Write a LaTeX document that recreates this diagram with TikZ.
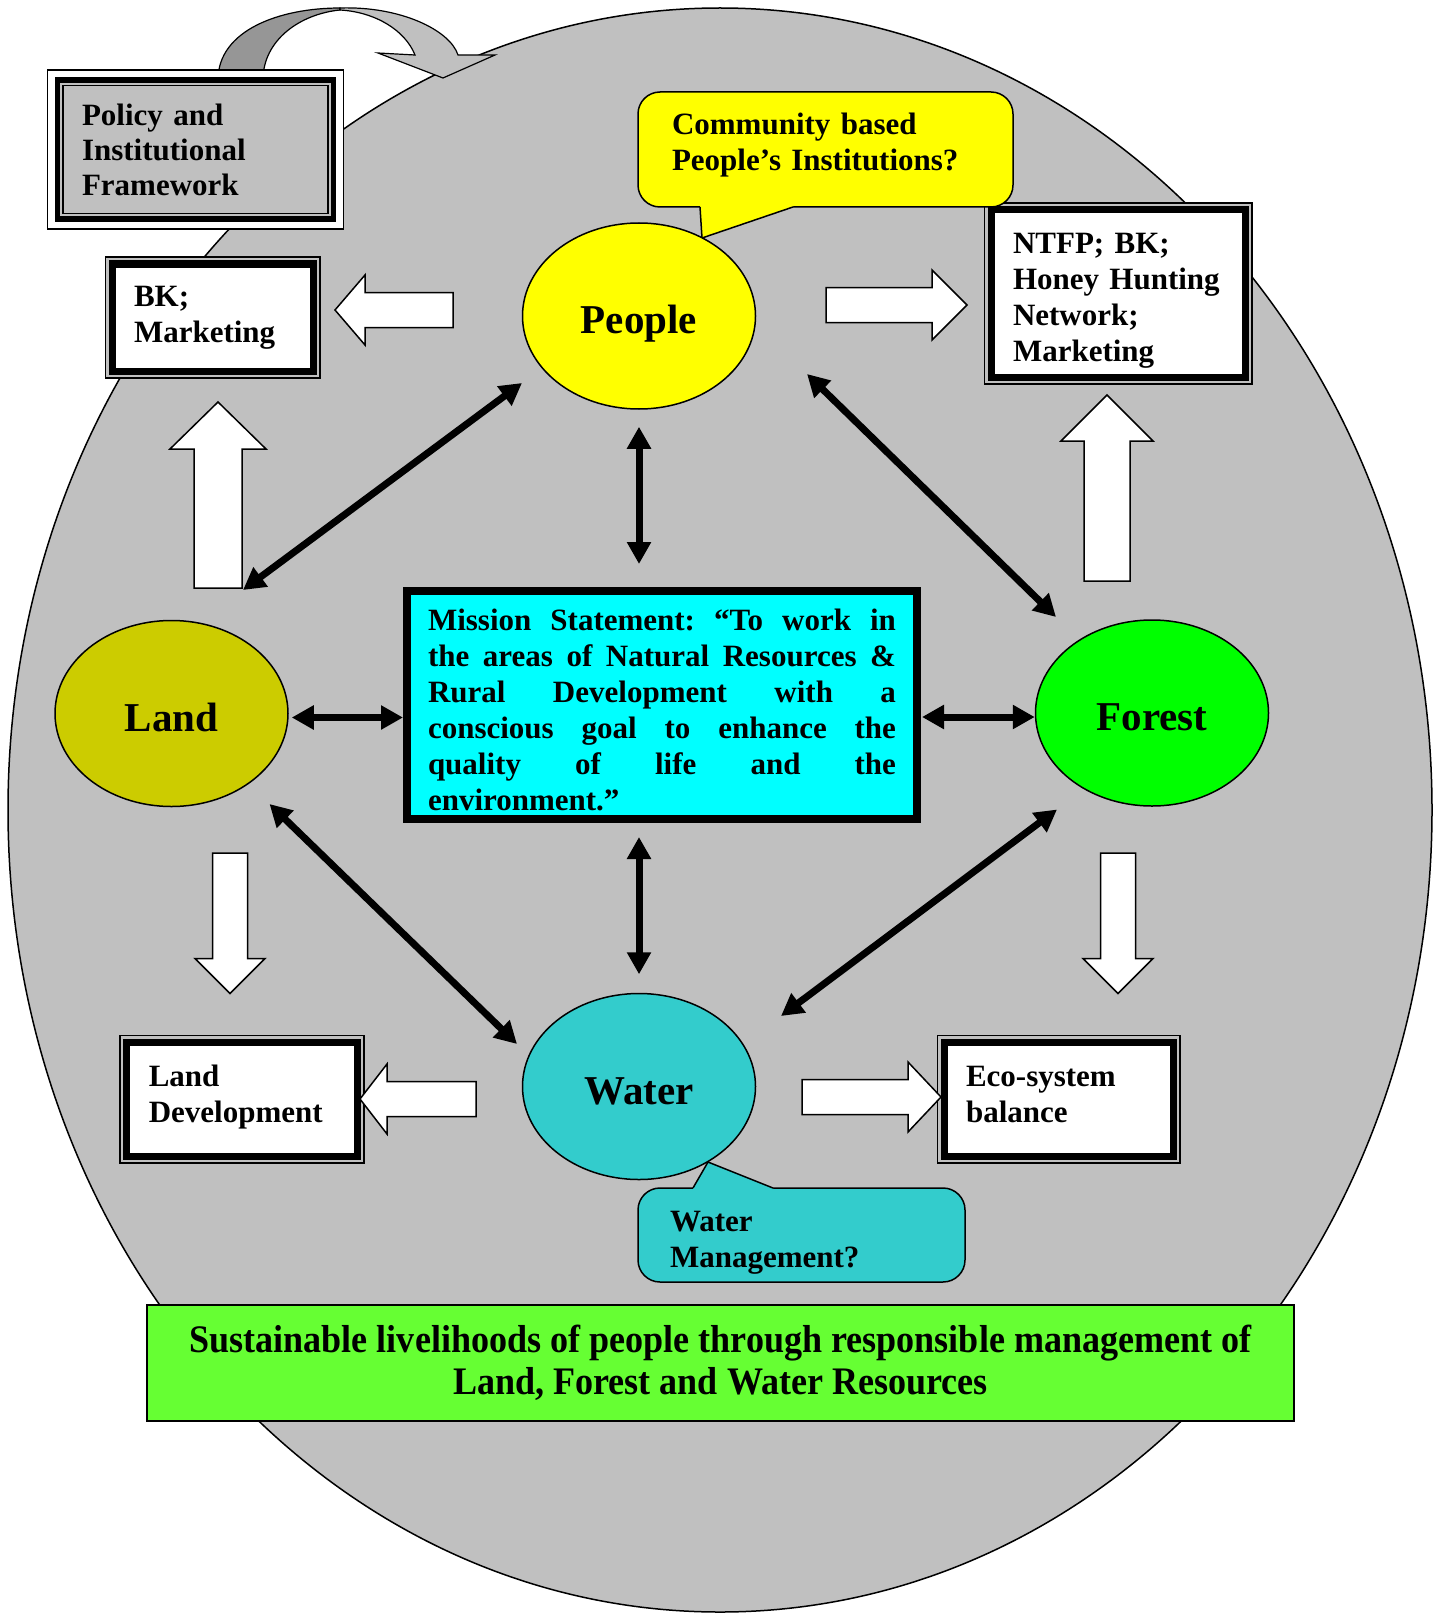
\documentclass[tikz,border=0pt]{standalone}
\usepackage{fontspec}
\setmainfont{Liberation Serif}
\newfontfamily\narrowfont[FakeStretch=0.925]{Liberation Serif}
\usetikzlibrary{shapes.geometric,arrows.meta,calc}

\definecolor{bggray}{HTML}{C0C0C0}
\definecolor{darkband}{HTML}{969696}
\definecolor{peoplefill}{HTML}{FFFF00}
\definecolor{landfill}{HTML}{CCCC00}
\definecolor{forestfill}{HTML}{00FF00}
\definecolor{waterfill}{HTML}{33CCCC}
\definecolor{missionfill}{HTML}{00FFFF}
\definecolor{goalfill}{HTML}{66FF33}

\tikzset{
  % the four resources round the mission
  resource/.style={ellipse, draw=black, line width=1.5pt, minimum width=233pt,
    minimum height=186pt, inner sep=0pt, text height=35pt, text depth=0pt,
    font=\fontsize{41}{47}\selectfont\bfseries},
  % white boxes: thick frame with a thin line round it
  outbox/.style={rectangle, draw=black, line width=7pt, fill=white, outer sep=0pt,
    inner xsep=22pt, align=left,
    preaction={draw=black, line width=15pt}, preaction={draw=bggray, line width=12pt},
    font=\fontsize{31}{36}\selectfont\bfseries},
  policybox/.style={rectangle, draw=black, line width=5.5pt, fill=bggray, outer sep=0pt,
    inner xsep=24.5pt, align=left,
    preaction={draw=black, line width=21.5pt}, preaction={draw=white, line width=18.5pt},
    font=\fontsize{31}{35}\selectfont\bfseries},
  callout/.style={rectangle, rounded corners=22pt, draw=black, line width=1.5pt,
    outer sep=0pt, align=left, font=\fontsize{31}{36}\selectfont\bfseries},
  mission/.style={rectangle, draw=black, line width=8pt, fill=missionfill, outer sep=0pt,
    inner xsep=21pt, text width=468pt, align=justify,
    font=\fontsize{31}{36}\selectfont\bfseries},
  goal/.style={rectangle, draw=black, line width=2pt, fill=goalfill, outer sep=0pt,
    minimum width=1147pt, minimum height=116pt, align=center,
    font=\narrowfont\fontsize{39}{42.5}\selectfont\bfseries},
  % two headed black connectors
  link/.style={line width=7pt,
    {Triangle[length=22pt,width=23pt]}-{Triangle[length=22pt,width=23pt]}},
  blockarrow/.style={draw=black, line width=1.5pt, fill=white, line join=miter},
}

% struts to move text lines inside a box: tall one on top, deep one at the bottom
\newcommand{\tallstrut}[1]{\rule{0pt}{#1}}
\newcommand{\deepstrut}[1]{\rule[-#1]{0pt}{#1}}

% hollow block arrows: tail, head back, tip, axis position, half shaft width
\newcommand{\blockh}[5]{%
  \draw[blockarrow] (#1,#4-#5) -- (#2,#4-#5) -- (#2,#4-2*#5) -- (#3,#4)
    -- (#2,#4+2*#5) -- (#2,#4+#5) -- (#1,#4+#5) -- cycle;}
\newcommand{\blockv}[5]{%
  \draw[blockarrow] (#4-#5,#1) -- (#4-#5,#2) -- (#4-2*#5,#2) -- (#4,#3)
    -- (#4+2*#5,#2) -- (#4+#5,#2) -- (#4+#5,#1) -- cycle;}

\begin{document}
\begin{tikzpicture}[x=1pt,y=-1pt]
\useasboundingbox (0,0) rectangle (1443,1613);
\fill[white] (0,0) rectangle (1443,1613);

% the big grey field
\filldraw[fill=bggray, draw=black, line width=1.5pt] (720,810) ellipse [x radius=712, y radius=802];

% curved arrow out of the policy box
\filldraw[fill=darkband, draw=black, line width=1.2pt] (218,80) .. controls (218,30) and (280,8) .. (340,8)
  -- (340,10) .. controls (300,14) and (263,40) .. (263,80) -- cycle;
\filldraw[fill=bggray, draw=black, line width=1.2pt] (340,8) .. controls (400,6) and (450,30) .. (458,55)
  -- (495,55) -- (443,78) -- (378,53) -- (415,55) .. controls (405,30) and (375,12) .. (340,10) -- cycle;

% boxes
\node[policybox, minimum width=276pt, minimum height=139pt, text width=227pt] (policy) at (195.5,149.5)
  {Policy and\\ Institutional\\ Framework};
\draw[line width=1.2pt] ($(policy.north west)+(5.5,5.5)$) rectangle ($(policy.south east)+(-5.5,-5.5)$);

\node[outbox, minimum width=201pt, minimum height=107pt, text width=157pt] (bk) at (212.5,317.5)
  {BK;\\ Marketing};
\node[outbox, minimum width=254pt, minimum height=167pt, text width=210pt] (ntfp) at (1118,293.5)
  {\tallstrut{34pt}NTFP; BK;\\ Honey Hunting\\ Network;\\ Marketing};
\node[outbox, minimum width=230.5pt, minimum height=114pt, text width=186pt] (landdev) at (241.75,1099)
  {Land\\ Development\deepstrut{11pt}};
\node[outbox, minimum width=229pt, minimum height=114pt, text width=185pt] (eco) at (1058.5,1099)
  {Eco-system\\ balance\deepstrut{9pt}};

% speech bubbles
\node[callout, fill=peoplefill, minimum width=375pt, minimum height=115pt, inner xsep=34pt,
  text width=307pt] (community) at (825.5,149.5) {Community based\\ People’s Institutions?\deepstrut{15pt}};
\coordinate (ct1) at ($(community.south west)+(62,0)$);
\coordinate (ct2) at ($(community.south west)+(155,0)$);
\coordinate (cttip) at ($(community.south west)+(64,31)$);
\fill[peoplefill] ($(ct1)+(0,-2)$) -- (ct1) -- (cttip) -- (ct2) -- ($(ct2)+(0,-2)$) -- cycle;
\draw[line width=1.5pt] (ct1) -- (cttip) -- (ct2);

\node[callout, fill=waterfill, minimum width=327pt, minimum height=94pt, inner xsep=32pt,
  text width=263pt] (watercall) at (801.5,1235) {\tallstrut{35pt}Water\\ Management?};
\coordinate (wt1) at ($(watercall.north west)+(55,0)$);
\coordinate (wt2) at ($(watercall.north west)+(135,0)$);
\coordinate (wttip) at ($(watercall.north west)+(70,-26)$);
\fill[waterfill] ($(wt1)+(0,2)$) -- (wt1) -- (wttip) -- (wt2) -- ($(wt2)+(0,2)$) -- cycle;
\draw[line width=1.5pt] (wt1) -- (wttip) -- (wt2);

% resources and mission
\node[resource, fill=peoplefill] (people) at (639,316) {People};
\node[resource, fill=landfill] (land) at (171.5,713.5) {Land};
\node[resource, fill=forestfill] (forest) at (1152,713) {Forest};
\node[resource, fill=waterfill] (water) at (639,1086.5) {Water};

\node[mission, minimum height=228pt] (mission) at (662,705)
  {\frenchspacing\tolerance=10000 \hyphenpenalty=10000 \tallstrut{32pt}Mission Statement: “To work in\linebreak
   the areas of Natural Resources \&\linebreak Rural Development with a\linebreak
   conscious goal to enhance the\linebreak quality of life and the\linebreak environment.”};

\node[goal] (goal) at (720.5,1363)
  {Sustainable livelihoods of people through responsible management of\\
   Land, Forest and Water Resources};

% hollow arrows
\blockh{453}{365}{335}{310}{17.5}
\blockh{826}{932}{967}{305}{17.5}
\blockh{476}{387}{360}{1099}{17.5}
\blockh{802}{908}{941}{1097}{17.5}
\blockv{588}{449}{402}{218}{24}
\blockv{581}{441}{395}{1107}{23}
\blockv{853}{958.5}{993.5}{230}{17.5}
\blockv{853}{958.5}{993.5}{1118}{17.5}

% links between resources and mission
\coordinate (a1) at ($(land)+(71.5,-123.5)$);
\coordinate (a2) at ($(people)+(-117,67)$);
\coordinate (c1) at ($(people)+(168,58)$);
\coordinate (c2) at ($(forest)+(-96,-96)$);
\coordinate (f1) at ($(land)+(98,90.5)$);
\coordinate (f2) at ($(water)+(-122,-42.5)$);
\coordinate (h1) at ($(forest)+(-95,96.5)$);
\coordinate (h2) at ($(water)+(142,-70.5)$);
\coordinate (d1) at ([yshift=-4pt]land.east);
\coordinate (e1) at ([yshift=-4pt]forest.west);
\draw[link] (a1) -- (a2);
\draw[link] (c1) -- (c2);
\draw[link] (f1) -- (f2);
\draw[link] (h1) -- (h2);
\draw[link, shorten <=17pt, shorten >=27pt] (people.south) -- (people.south |- mission.north);
\draw[link, shorten <=18pt, shorten >=18.5pt] (water.north |- mission.south) -- (water.north);
\draw[link, shorten <=3pt, shorten >=4pt] (d1) -- (d1 -| mission.west);
\draw[link, shorten <=5pt] (e1 -| mission.east) -- (e1);
\end{tikzpicture}
\end{document}
